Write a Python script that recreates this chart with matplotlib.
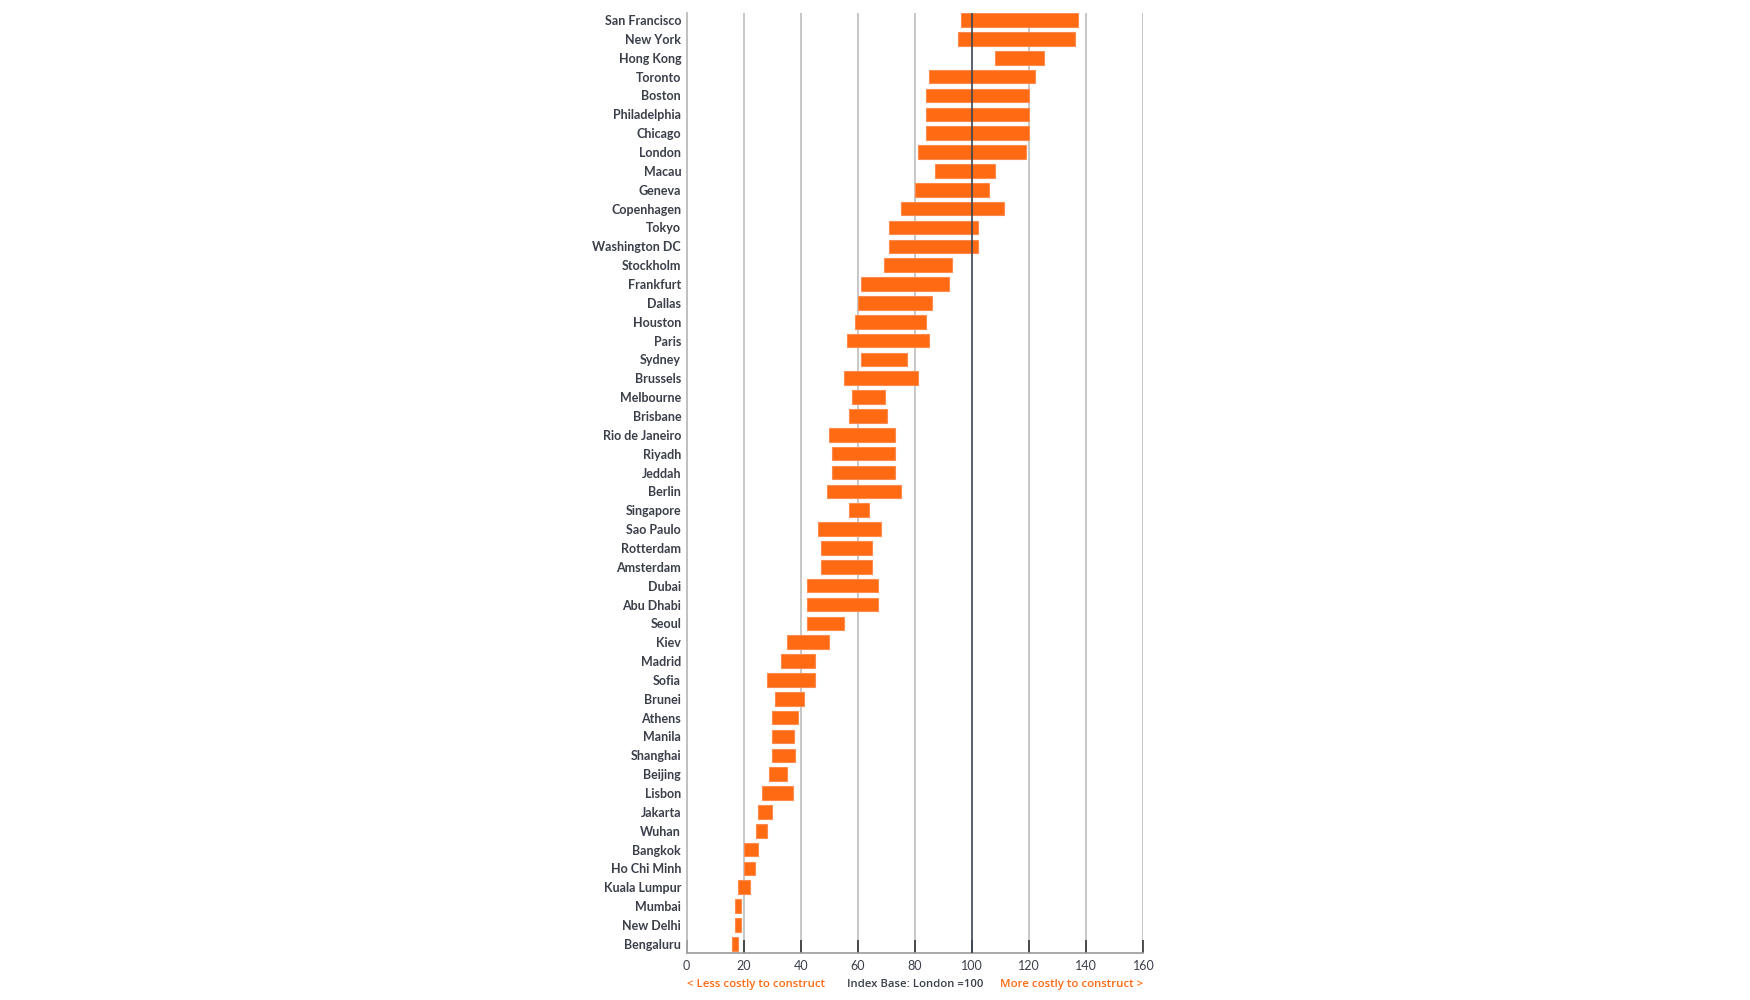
"""Construction cost index ranges by city (London = 100)."""

import matplotlib.pyplot as plt
import numpy as np

cities = [
    "San Francisco", "New York", "Hong Kong", "Toronto", "Boston", "Philadelphia",
    "Chicago", "London", "Macau", "Geneva", "Copenhagen", "Tokyo", "Washington DC",
    "Stockholm", "Frankfurt", "Dallas", "Houston", "Paris", "Sydney", "Brussels",
    "Melbourne", "Brisbane", "Rio de Janeiro", "Riyadh", "Jeddah", "Berlin",
    "Singapore", "Sao Paulo", "Rotterdam", "Amsterdam", "Dubai", "Abu Dhabi",
    "Seoul", "Kiev", "Madrid", "Sofia", "Brunei", "Athens", "Manila", "Shanghai",
    "Beijing", "Lisbon", "Jakarta", "Wuhan", "Bangkok", "Ho Chi Minh",
    "Kuala Lumpur", "Mumbai", "New Delhi", "Bengaluru",
]
low = [
    96, 95, 108, 85, 84, 84, 84, 81, 87, 80, 75, 71, 71,
    69, 61, 60, 59, 56, 61, 55, 58, 57, 50, 51, 51, 49,
    57, 46, 47, 47, 42, 42, 42, 35, 33, 28, 31, 30, 30, 30,
    29, 26.5, 25, 24.3, 20, 20, 18, 17, 17, 16,
]
high = [
    137, 136, 125, 122, 120, 120, 120, 119, 108, 106, 111, 102, 102,
    93, 92, 86, 84, 85, 77, 81, 69.5, 70, 73, 73, 73, 75,
    64, 68, 65, 65, 67, 67, 55, 50, 45, 45, 41, 39, 37.7, 38,
    35, 37.3, 30, 28, 25, 24, 22, 19, 19, 18,
]
xticks = [0, 20, 40, 60, 80, 100, 120, 140, 160]

ORANGE = "#ff6a13"
TEXT = "#3a3f4a"

plt.rcParams["font.family"] = ["Lato", "DejaVu Sans"]

fig = plt.figure(figsize=(17.5, 10), dpi=100)
ax = fig.add_axes([0.3924, 0.0473, 0.2610, 0.9394])

y = np.arange(len(cities))
lo = np.asarray(low, dtype=float)
hi = np.asarray(high, dtype=float)

for xv in xticks[1:]:
    if xv != 100:
        ax.axvline(xv, color="#bdbdbd", linewidth=1.2, zorder=1)
ax.barh(y, hi - lo, left=lo, height=0.72, color=ORANGE,
        edgecolor="#ff8c4d", linewidth=0.8, zorder=2)
ax.axvline(100, color="#3c4653", linewidth=1.2, zorder=3)

ax.set_xlim(0, 160)
ax.set_ylim(len(cities) - 0.53, -0.36)
ax.set_yticks(y)
ax.set_yticklabels(cities, fontsize=9.0, fontweight="bold", color=TEXT)
ax.set_xticks(xticks)
ax.set_xticklabels([str(v) for v in xticks], fontsize=9.0, color=TEXT)
ax.tick_params(axis="y", length=0, pad=4)
ax.tick_params(axis="x", direction="in", length=9.5, width=1.2,
               color="#333333", pad=5)

for side in ("top", "right"):
    ax.spines[side].set_visible(False)
ax.spines["left"].set_color("#b5b5b5")
ax.spines["left"].set_linewidth(1.2)
ax.spines["bottom"].set_color("#999999")
ax.spines["bottom"].set_linewidth(1.2)

trans = ax.get_xaxis_transform()
note_font = dict(fontsize=8.2, fontweight="semibold", family=["Open Sans", "DejaVu Sans"])
ax.text(0, -0.034, "< Less costly to construct", transform=trans,
        ha="left", va="center", color=ORANGE, **note_font)
ax.text(80, -0.034, "Index Base: London =100", transform=trans,
        ha="center", va="center", color=TEXT, **note_font)
ax.text(160, -0.034, "More costly to construct >", transform=trans,
        ha="right", va="center", color=ORANGE, **note_font)

fig.savefig("out.png", dpi=100)
